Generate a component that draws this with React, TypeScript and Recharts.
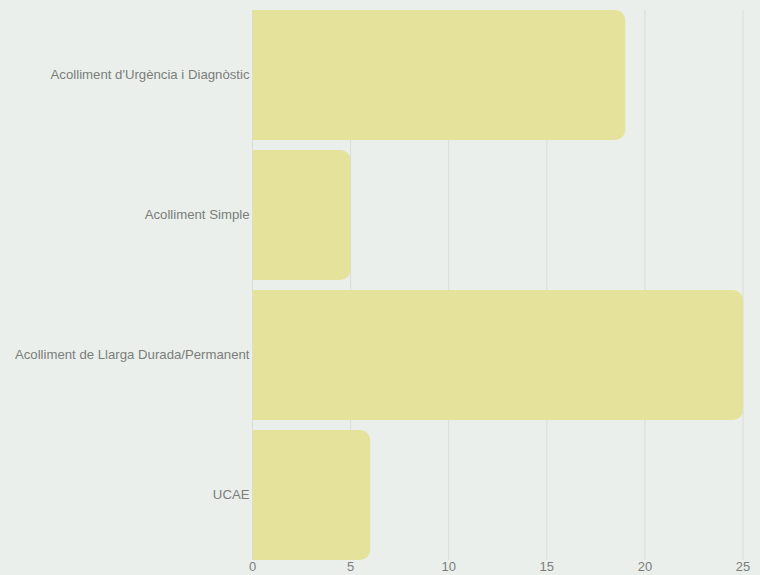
import React from 'react';
import { BarChart, Bar, XAxis, YAxis, CartesianGrid } from 'recharts';

const categories = [
  "Acolliment d'Urgència i Diagnòstic",
  'Acolliment Simple',
  'Acolliment de Llarga Durada/Permanent',
  'UCAE',
];
const counts = [19, 5, 25, 6];
const xTicks = [0, 5, 10, 15, 20, 25];

const data = categories.map((name, i) => ({ name, value: counts[i] }));

const TEXT = '#7b7d7b';
const FONT = 'Liberation Sans, Arial, sans-serif';

const XTick = (props: any) => {
  const { x, y, payload } = props;
  return (
    <text x={x} y={y} dy={6} textAnchor="middle" fill={TEXT} fontSize={13} fontFamily={FONT}>
      {payload.value}
    </text>
  );
};

const YTick = (props: any) => {
  const { x, y, payload } = props;
  return (
    <text x={x} y={y} dx={2} dy={4} textAnchor="end" fill={TEXT} fontSize={13.2} fontFamily={FONT}>
      {payload.value}
    </text>
  );
};

const App: React.FC = () => {
  return (
    <div style={{ position: 'fixed', left: 0, top: 0, width: 760, height: 575, background: '#eaefeb' }}>
      <BarChart
        width={760}
        height={575}
        data={data}
        layout="vertical"
        margin={{ top: 5, right: 17, bottom: 0, left: 0 }}
        barCategoryGap={5}
      >
        <CartesianGrid horizontal={false} stroke="#d9dcd9" y={10} height={550} />
        <XAxis
          type="number"
          domain={[0, 25]}
          ticks={xTicks}
          axisLine={false}
          tickLine={false}
          tickSize={0}
          tickMargin={0}
          height={10}
          tick={<XTick />}
          interval={0}
        />
        <YAxis
          type="category"
          dataKey="name"
          width={252.5}
          axisLine={false}
          tickLine={false}
          tickSize={3}
          tick={<YTick />}
          interval={0}
        />
        <Bar dataKey="value" fill="#e5e39b" radius={[0, 10, 10, 0]} isAnimationActive={false} />
      </BarChart>
    </div>
  );
};

export default App;
